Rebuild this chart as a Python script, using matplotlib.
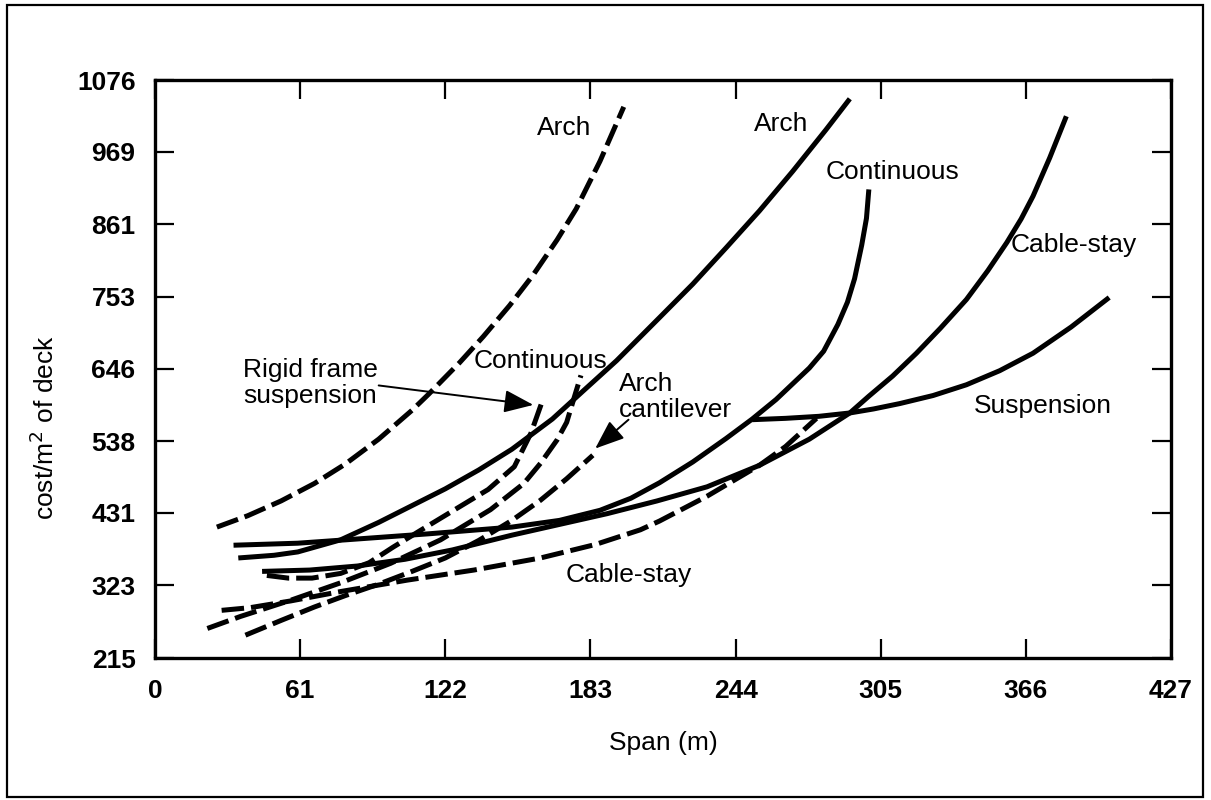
import matplotlib.pyplot as plt
from matplotlib.patches import Rectangle

plt.rcParams['font.family'] = ['Liberation Sans', 'DejaVu Sans']

# span (m) and cost per m^2 of deck
arch_dashed_x = [26, 39, 53, 67, 80, 94, 108, 115, 128, 138, 149, 159, 169, 177, 187, 197]
arch_dashed_y = [410, 427, 449, 475, 504, 541, 584, 608, 655, 694, 740, 786, 838, 884, 955, 1036]

arch_solid_x = [35, 50, 60, 78, 94, 108, 122, 136, 150, 167, 180, 194, 212, 226, 240, 254, 268, 282, 292]
arch_solid_y = [364, 368, 373, 391, 417, 442, 467, 495, 526, 571, 613, 658, 722, 772, 826, 881, 940, 1002, 1048]

cont_solid_x = [33, 60, 80, 115, 136, 150, 170, 187, 200, 212, 226, 240, 251, 261, 275, 281, 287, 291, 294, 297, 299, 300]
cont_solid_y = [383, 386, 391, 400, 406, 410, 420, 435, 453, 476, 507, 542, 571, 600, 647, 672, 712, 745, 780, 830, 870, 913]

cable_solid_x = [45, 65, 85, 105, 125, 150, 170, 190, 211, 232, 254, 275, 292, 300, 310, 320, 330, 341, 350, 358, 364, 369, 376, 383]
cable_solid_y = [344, 346, 352, 362, 376, 398, 414, 430, 449, 470, 502, 541, 580, 605, 635, 669, 706, 749, 792, 834, 869, 903, 960, 1022]

susp_x = [251, 265, 279, 292, 302, 313, 327, 341, 355, 369, 385, 401]
susp_y = [570, 572, 575, 580, 586, 594, 606, 622, 643, 669, 708, 752]

cont_dashed_x = [22, 36, 57, 78, 99, 120, 127, 141, 155, 162, 169, 173, 179]
cont_dashed_y = [259, 277, 301, 327, 356, 391, 406, 436, 475, 505, 540, 566, 636]

rigid_x = [47, 56, 66, 78, 90, 100, 112, 126, 140, 151, 158, 163]
rigid_y = [338, 334, 334, 341, 357, 380, 406, 436, 466, 500, 550, 600]

arch_cant_x = [38, 53, 67, 80, 94, 108, 122, 136, 150, 162, 173, 184]
arch_cant_y = [249, 271, 291, 308, 325, 344, 364, 390, 420, 450, 482, 517]

cable_dashed_x = [28, 40, 57, 78, 106, 134, 162, 185, 204, 212, 232, 254, 265, 278]
cable_dashed_y = [286, 290, 300, 314, 331, 346, 364, 384, 406, 419, 456, 502, 530, 572]

x_ticks = [0, 61, 122, 183, 244, 305, 366, 427]
y_ticks = [215, 323, 431, 538, 646, 753, 861, 969, 1076]

fig = plt.figure(figsize=(12.11, 8.0), dpi=100)
ax = fig.add_axes([0.128, 0.1775, 0.839, 0.7225])

lw = 3.6
solid = dict(color='black', lw=lw, solid_capstyle='butt', solid_joinstyle='round')
dashed = dict(color='black', lw=lw, dashes=(4.5, 1.4), dash_joinstyle='round')

ax.plot(arch_solid_x, arch_solid_y, **solid)
ax.plot(cont_solid_x, cont_solid_y, **solid)
ax.plot(cable_solid_x, cable_solid_y, **solid)
ax.plot(susp_x, susp_y, **solid)
ax.plot(arch_dashed_x, arch_dashed_y, **dashed)
ax.plot(cont_dashed_x, cont_dashed_y, **dashed)
ax.plot(rigid_x, rigid_y, **dashed)
ax.plot(arch_cant_x, arch_cant_y, **dashed)
ax.plot(cable_dashed_x, cable_dashed_y, **dashed)

ax.set_xlim(0, 427)
ax.set_ylim(215, 1076)
ax.set_xticks(x_ticks)
ax.set_yticks(y_ticks)
ax.set_xticklabels([str(v) for v in x_ticks], fontweight='bold')
ax.set_yticklabels([str(v) for v in y_ticks], fontweight='bold')
ax.tick_params(direction='in', top=True, right=True, length=14, width=1.6,
               labelsize=19)
ax.tick_params(axis='x', pad=15)
ax.tick_params(axis='y', pad=14)
for s in ax.spines.values():
    s.set_linewidth(2.4)

fs = 19
ax.text(172, 1004, 'Arch', fontsize=fs, ha='center', va='center')
ax.text(263, 1010, 'Arch', fontsize=fs, ha='center', va='center')
ax.text(310, 939, 'Continuous', fontsize=fs, ha='center', va='center')
ax.text(386, 830, 'Cable-stay', fontsize=fs, ha='center', va='center')
ax.text(373, 590, 'Suspension', fontsize=fs, ha='center', va='center')
ax.text(199, 338, 'Cable-stay', fontsize=fs, ha='center', va='center')
ax.text(162, 658, 'Continuous', fontsize=fs, ha='center', va='center')
ax.text(37, 624, 'Rigid frame\nsuspension', fontsize=fs, ha='left', va='center',
        linespacing=1.1)
ax.text(195, 604, 'Arch\ncantilever', fontsize=fs, ha='left', va='center',
        linespacing=1.1)

arrow = dict(arrowstyle='-|>,head_length=0.9,head_width=0.35', color='black',
             lw=1.4, mutation_scale=20, shrinkA=0, shrinkB=0)
ax.annotate('', xy=(159, 592), xytext=(94, 621), arrowprops=arrow)
ax.annotate('', xy=(185, 527), xytext=(199, 570), arrowprops=arrow)

ax.set_xlabel('Span (m)', fontsize=19, labelpad=20)
fig.text(0.037, 0.466, 'cost/m$^2$ of deck', rotation=90, fontsize=19,
         ha='center', va='center')

fig.patches.append(Rectangle((0.006, 0.004), 0.987, 0.99, transform=fig.transFigure,
                             fill=False, lw=1.6, color='black'))

fig.savefig('out.png', dpi=100)
